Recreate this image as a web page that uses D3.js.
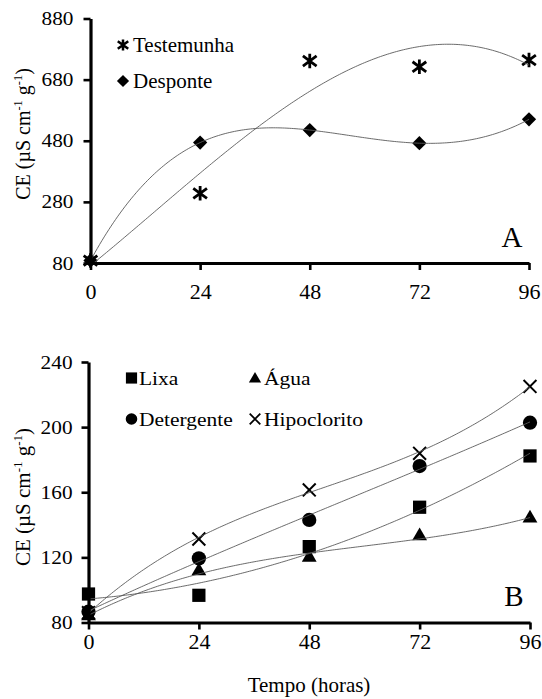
<!DOCTYPE html>
<html>
<head>
<meta charset="utf-8">
<script src="https://cdn.jsdelivr.net/npm/d3@7"></script>
<style>
body { margin: 0; background: #fff; }
svg { display: block; }
svg text { font-family: "Liberation Serif", "DejaVu Serif", "Noto Serif", "Times New Roman", Times, serif; fill: #000; }
</style>
</head>
<body>
<svg></svg>
<script>
var width = 542, height = 699;
var serif = "'Liberation Serif', 'DejaVu Serif', 'Times New Roman', Times, serif";

var hours = [0, 24, 48, 72, 96];
var xTicks = [0, 24, 48, 72, 96];
var yTicksA = [80, 280, 480, 680, 880];
var yTicksB = [80, 120, 160, 200, 240];

// painel A
var testemunha = [88, 308, 741, 722, 744];
var desponte = [88, 474, 515, 472, 550];

// painel B
var lixa = [97.5, 96.7, 126.6, 150.8, 182.3];
var agua = [84, 111.6, 120, 133.1, 144];
var detergente = [86.6, 119.4, 143, 176.1, 202.7];
var hipoclorito = [86, 131.3, 161.4, 183.9, 225];

var svg = d3.select("svg").attr("width", width).attr("height", height)
  .style("font-family", serif);

var lineColor = "#5a5a5a";
var stretch = 1.12;

// least squares polynomial trendline
function polyfit(xs, ys, deg) {
  var n = deg + 1, A = [], b = [];
  for (var i = 0; i < n; i++) { A.push(new Array(n).fill(0)); b.push(0); }
  xs.forEach(function(x, k) {
    var t = x / 96;
    for (var i = 0; i < n; i++) {
      for (var j = 0; j < n; j++) A[i][j] += Math.pow(t, i + j);
      b[i] += ys[k] * Math.pow(t, i);
    }
  });
  for (var c = 0; c < n; c++) {
    var p = c;
    for (var r = c + 1; r < n; r++) if (Math.abs(A[r][c]) > Math.abs(A[p][c])) p = r;
    var tmp = A[c]; A[c] = A[p]; A[p] = tmp;
    tmp = b[c]; b[c] = b[p]; b[p] = tmp;
    for (var r = c + 1; r < n; r++) {
      var f = A[r][c] / A[c][c];
      for (var j = c; j < n; j++) A[r][j] -= f * A[c][j];
      b[r] -= f * b[c];
    }
  }
  var coef = new Array(n).fill(0);
  for (var r = n - 1; r >= 0; r--) {
    var s = b[r];
    for (var j = r + 1; j < n; j++) s -= A[r][j] * coef[j];
    coef[r] = s / A[r][r];
  }
  return function(x) {
    var t = x / 96, v = 0;
    for (var i = n - 1; i >= 0; i--) v = v * t + coef[i];
    return v;
  };
}

function starPath(r) {
  var p = d3.path();
  p.moveTo(0, -r); p.lineTo(0, r);
  p.moveTo(-r * 0.95, -r * 0.7); p.lineTo(r * 0.95, r * 0.7);
  p.moveTo(-r * 0.95, r * 0.7); p.lineTo(r * 0.95, -r * 0.7);
  return p.toString();
}

var markers = {
  star: { d: starPath(7.2), fill: "none", stroke: 2.8 },
  starS: { d: starPath(5.5), fill: "none", stroke: 2.5 },
  diamond: { d: d3.symbol(d3.symbolDiamond2, 130)(), fill: "#000", stroke: 0 },
  diamondS: { d: d3.symbol(d3.symbolDiamond2, 95)(), fill: "#000", stroke: 0 },
  square: { d: d3.symbol(d3.symbolSquare, 175)(), fill: "#000", stroke: 0 },
  squareS: { d: d3.symbol(d3.symbolSquare, 125)(), fill: "#000", stroke: 0 },
  triangle: { d: d3.symbol(d3.symbolTriangle, 95)(), fill: "#000", stroke: 0 },
  triangleS: { d: d3.symbol(d3.symbolTriangle, 65)(), fill: "#000", stroke: 0 },
  circle: { d: d3.symbol(d3.symbolCircle, 160)(), fill: "#000", stroke: 0 },
  circleS: { d: d3.symbol(d3.symbolCircle, 105)(), fill: "#000", stroke: 0 },
  times: { d: d3.symbol(d3.symbolTimes, 110)(), fill: "none", stroke: 2 },
  timesS: { d: d3.symbol(d3.symbolTimes, 75)(), fill: "none", stroke: 1.8 }
};

function drawMarker(g, m, x, y) {
  g.append("path")
    .attr("d", m.d)
    .attr("transform", "translate(" + x + "," + y + ")")
    .attr("fill", m.fill)
    .attr("stroke", m.stroke ? "#000" : "none")
    .attr("stroke-width", m.stroke);
}

function yTitle(cx, cy, size) {
  var t = svg.append("text")
    .attr("transform", "translate(" + cx + "," + cy + ") rotate(-90)")
    .attr("text-anchor", "middle")
    .attr("font-family", serif)
    .attr("font-size", size);
  t.append("tspan").text("CE (µS cm");
  t.append("tspan").attr("font-size", size * 0.62).attr("dy", -size * 0.4).text("-1");
  t.append("tspan").attr("dy", size * 0.4).text(" g");
  t.append("tspan").attr("font-size", size * 0.62).attr("dy", -size * 0.4).text("-1");
  t.append("tspan").attr("dy", size * 0.4).text(")");
}

function panel(opt) {
  var x = d3.scaleLinear().domain([0, 96]).range(opt.xr);
  var y = d3.scaleLinear().domain(opt.yd).range(opt.yr);
  var g = svg.append("g");

  var clipId = "clip-" + opt.id;
  svg.append("clipPath").attr("id", clipId)
    .append("rect")
    .attr("x", opt.xr[0]).attr("y", opt.yr[1] - 10)
    .attr("width", opt.xr[1] - opt.xr[0] + 10)
    .attr("height", opt.yr[0] - opt.yr[1] + 10);

  // markers
  opt.series.forEach(function(s) {
    s.values.forEach(function(v, i) {
      drawMarker(g, markers[s.marker], x(hours[i]), y(v));
    });
  });

  // trendlines
  var line = d3.line().x(function(d) { return x(d[0]); }).y(function(d) { return y(d[1]); });
  opt.series.forEach(function(s) {
    var f = polyfit(hours, s.values, s.order);
    var pts = d3.range(0, 96.01, 0.5).map(function(h) { return [h, f(h)]; });
    g.append("path")
      .attr("d", line(pts))
      .attr("fill", "none")
      .attr("stroke", lineColor)
      .attr("stroke-width", 0.9)
      .attr("clip-path", "url(#" + clipId + ")");
  });

  // axes
  var ax = g.append("g")
    .attr("transform", "translate(0," + opt.yr[0] + ")")
    .call(d3.axisBottom(x).tickValues(xTicks).tickSize(7).tickSizeOuter(0).tickPadding(opt.xPad));
  ax.attr("font-family", serif);
  ax.select(".domain").attr("stroke-width", 3.2);
  ax.selectAll(".tick line").attr("stroke-width", 2.6);
  ax.selectAll(".tick text").attr("font-size", 22);

  var ay = g.append("g")
    .attr("transform", "translate(" + opt.xr[0] + ",0)")
    .call(d3.axisLeft(y).tickValues(opt.yTicks).tickSize(7).tickSizeOuter(0).tickPadding(opt.yPad));
  ay.attr("font-family", serif);
  ay.select(".domain").attr("stroke-width", 3.2);
  ay.selectAll(".tick line").attr("stroke-width", 2.6);
  ay.selectAll(".tick text")
    .attr("font-size", 19)
    .attr("x", -(7 + opt.yPad) / stretch)
    .attr("transform", "scale(" + stretch + ",1)");

  // legend
  opt.legend.forEach(function(l) {
    drawMarker(g, markers[l.marker], l.mx, l.my);
    g.append("text")
      .attr("transform", "translate(" + l.tx + "," + l.ty + ") scale(" + opt.legStretch + ",1)")
      .attr("font-family", serif)
      .attr("font-size", opt.legSize)
      .text(l.label);
  });

  // panel letter
  g.append("text")
    .attr("x", opt.letter[0]).attr("y", opt.letter[1])
    .attr("text-anchor", "middle")
    .attr("font-family", serif)
    .attr("font-size", 29)
    .text(opt.id);
}

panel({
  id: "A",
  xr: [90.5, 529], yr: [263, 18.5], yd: [80, 880], yTicks: yTicksA,
  xPad: 13, yPad: 10,
  series: [
    { values: testemunha, marker: "star", order: 3 },
    { values: desponte, marker: "diamond", order: 4 }
  ],
  legSize: 21, legStretch: 1,
  legend: [
    { marker: "starS", mx: 123, my: 45, tx: 133, ty: 52, label: "Testemunha" },
    { marker: "diamondS", mx: 123, my: 81, tx: 133, ty: 88, label: "Desponte" }
  ],
  letter: [512, 247]
});

panel({
  id: "B",
  xr: [88.5, 530], yr: [622.5, 362], yd: [80, 240], yTicks: yTicksB,
  xPad: 4, yPad: 9,
  series: [
    { values: lixa, marker: "square", order: 2 },
    { values: agua, marker: "triangle", order: 3 },
    { values: detergente, marker: "circle", order: 3 },
    { values: hipoclorito, marker: "times", order: 3 }
  ],
  legSize: 19, legStretch: 1.13,
  legend: [
    { marker: "squareS", mx: 131.5, my: 378, tx: 139, ty: 385, label: "Lixa" },
    { marker: "triangleS", mx: 255, my: 379, tx: 264, ty: 385, label: "Água" },
    { marker: "circleS", mx: 131.5, my: 419, tx: 139, ty: 426, label: "Detergente" },
    { marker: "timesS", mx: 255, my: 419, tx: 264, ty: 426, label: "Hipoclorito" }
  ],
  letter: [514, 606]
});

yTitle(30, 134, 20);
yTitle(30, 497, 21);

svg.append("text")
  .attr("x", 309).attr("y", 692)
  .attr("text-anchor", "middle")
  .attr("font-family", serif)
  .attr("font-size", 21)
  .text("Tempo (horas)");
</script>
</body>
</html>
